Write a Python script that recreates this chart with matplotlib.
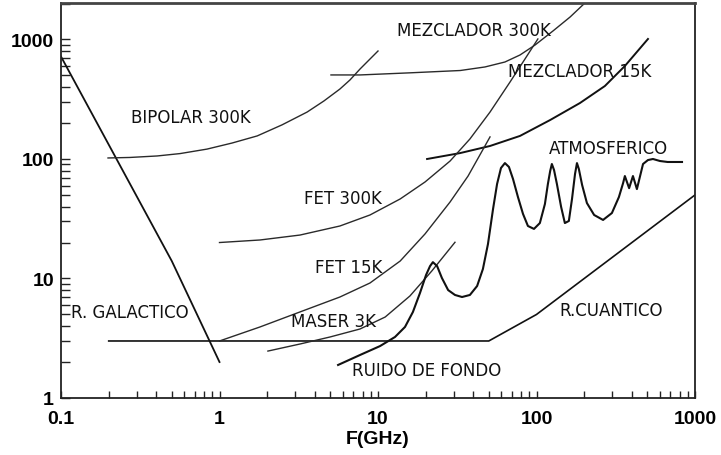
import matplotlib
matplotlib.use("Agg")
import matplotlib.pyplot as plt
from matplotlib.ticker import LogLocator, NullFormatter, FixedLocator

plt.rcParams['font.family'] = ['Liberation Sans', 'DejaVu Sans']

# curves (F in GHz, T in K)
galactico_f = [0.1, 0.5, 1.0]
galactico_t = [720, 14, 2.0]

# background floor + quantum limit
cuantico_f = [0.2, 50, 100, 1000]
cuantico_t = [3.0, 3.0, 5.0, 50]

bipolar_f = [0.198, 0.272, 0.404, 0.564, 0.834, 1.20, 1.73, 2.48, 3.57, 4.56,
             5.75, 6.65, 7.7, 10]
bipolar_t = [102, 103, 106, 111, 121, 136, 156, 193, 247, 306,
             385, 458, 566, 801]

mez300_f = [5.05, 7.7, 15.9, 33, 47.3, 63.2, 78.7, 97.9, 127, 163, 202]
mez300_t = [505, 505, 526, 550, 589, 648, 742, 899, 1178, 1543, 2020]

mez15_f = [20.4, 32.9, 50.9, 78.7, 122, 188, 270, 361, 505]
mez15_t = [100, 112, 128.5, 156, 212, 294, 408, 600, 1010]

fet300_f = [1.0, 1.80, 3.22, 5.75, 8.9, 13.8, 19.8, 28.5, 38.0, 50.9, 68.1,
            84.6, 102]
fet300_t = [20, 21.0, 23.1, 27.5, 34.0, 46.3, 64.2, 96.2, 147, 247, 441,
            687, 1010]

fet15_f = [1.0, 1.80, 3.22, 5.75, 8.9, 13.8, 19.8, 28.5, 37.0, 50.9]
fet15_t = [3.0, 3.93, 5.25, 7.0, 9.17, 14.0, 23.6, 43.7, 72, 153]

maser_f = [2.02, 3.22, 4.98, 7.7, 11.1, 15.9, 21.9, 30.6]
maser_t = [2.47, 2.83, 3.24, 3.78, 4.76, 7.14, 11.6, 20.1]

# ruido de fondo + atmosferico (one trace)
atm_f = [5.6, 7.7, 10.3, 12.8, 14.8, 16.6, 18.4, 20.1, 21.3, 22.2, 23.6, 25.3,
         27.7, 30.6, 33.9, 38.0, 42.2, 45.9, 49.4, 53.2, 56.4, 59.7, 63.2, 67,
         71.1, 76.4, 82.2, 88.3, 96.4, 105, 113, 118, 122, 125, 129, 134.5,
         143, 151, 160, 167.5, 175, 180, 185, 194, 208, 231, 263, 299, 331,
         352, 361, 384, 406, 430, 470, 505, 543, 601, 672, 828]
atm_t = [1.89, 2.29, 2.72, 3.24, 3.93, 5.24, 7.56, 10.7, 12.7, 13.7, 12.7, 10.1,
         8.0, 7.28, 7.0, 7.28, 8.65, 12.0, 19.4, 38.2, 61.8, 84.1, 92.4, 85.8,
         68, 48, 34.7, 27.5, 26, 29.1, 42, 61.8, 79.4, 90.8, 80.9, 61.8,
         39.7, 29.1, 30.3, 46.3, 74.9, 92.4, 82.5, 60.6, 42.8, 34.0, 30.9, 35.3, 48,
         63, 72, 57, 72, 56, 90.8, 98, 100, 96.2, 94.4, 94.4]

xticks = [0.1, 1, 10, 100, 1000]
xtick_labels = ["0.1", "1", "10", "100", "1000"]
yticks = [1, 10, 100, 1000]
ytick_labels = ["1", "10", "100", "1000"]

fig = plt.figure(figsize=(7.21, 4.56), dpi=100)
ax = fig.add_axes([61 / 721, 57 / 456, 634 / 721, 395 / 456])

thin = dict(color="#2a2a2a", lw=1.0)
ax.plot(galactico_f, galactico_t, color="#111111", lw=1.3)
ax.plot(cuantico_f, cuantico_t, color="#111111", lw=1.2)
ax.plot(bipolar_f, bipolar_t, **thin)
ax.plot(mez300_f, mez300_t, **thin)
ax.plot(mez15_f, mez15_t, color="#111111", lw=1.4)
ax.plot(fet300_f, fet300_t, **thin)
ax.plot(fet15_f, fet15_t, **thin)
ax.plot(maser_f, maser_t, **thin)
ax.plot(atm_f, atm_t, color="#111111", lw=1.5)

ax.set_xscale("log")
ax.set_yscale("log")
ax.set_xlim(0.1, 1000)
ax.set_ylim(1, 2020)

ax.xaxis.set_major_locator(FixedLocator(xticks))
ax.set_xticklabels(xtick_labels)
ax.yaxis.set_major_locator(FixedLocator(yticks))
ax.set_yticklabels(ytick_labels)
ax.xaxis.set_minor_locator(LogLocator(base=10, subs=range(2, 10)))
ax.yaxis.set_minor_locator(LogLocator(base=10, subs=range(2, 10)))
ax.xaxis.set_minor_formatter(NullFormatter())
ax.yaxis.set_minor_formatter(NullFormatter())

ax.tick_params(axis="x", which="both", direction="in", length=5, width=1,
               color="#222222", pad=9, labelsize=14)
ax.tick_params(axis="y", which="both", direction="in", length=6.5, width=1,
               color="#222222", pad=5, labelsize=14)
for lab in ax.get_xticklabels() + ax.get_yticklabels():
    lab.set_fontweight("bold")

for side in ["left", "bottom", "right"]:
    ax.spines[side].set_linewidth(1.3)
    ax.spines[side].set_color("#222222")
ax.spines["top"].set_linewidth(2.0)
ax.spines["top"].set_color("#444444")

ax.set_xlabel("F(GHz)", fontsize=14, fontweight="bold", labelpad=2)

txt = dict(fontsize=12, ha="center", va="center", color="#111111",
           family=["DejaVu Sans"])
ax.text(0.656, 225, "BIPOLAR 300K", **txt)
ax.text(40.1, 1200, "MEZCLADOR 300K", **txt)
ax.text(188, 545, "MEZCLADOR 15K", **txt)
ax.text(283, 124, "ATMOSFERICO", **txt)
ax.text(5.97, 47.2, "FET 300K", **txt)
ax.text(6.51, 12.5, "FET 15K", **txt)
ax.text(0.270, 5.2, "R. GALACTICO", **txt)
ax.text(5.24, 4.45, "MASER 3K", **txt)
ax.text(20.4, 1.70, "RUIDO DE FONDO", **txt)
ax.text(295, 5.4, "R.CUANTICO", **txt)

fig.savefig("out.png", dpi=100)
